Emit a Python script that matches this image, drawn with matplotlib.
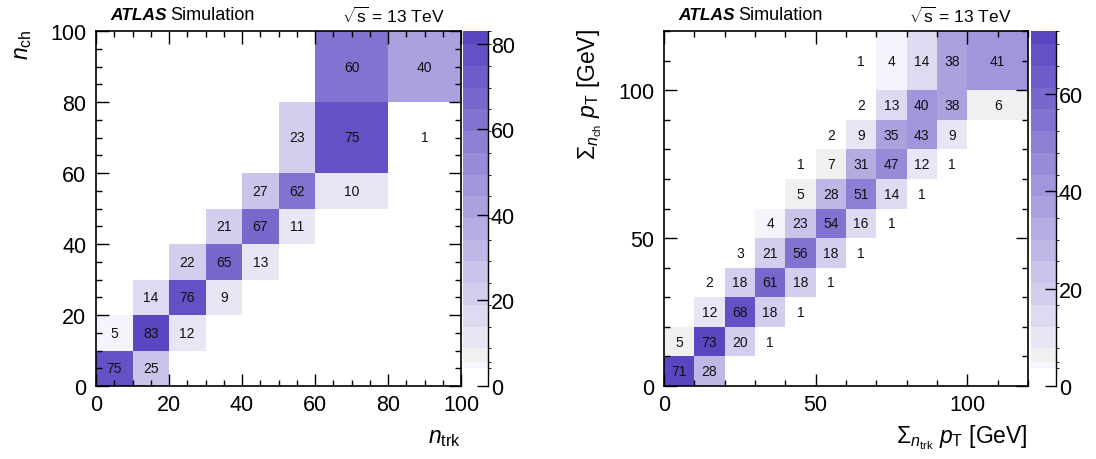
import numpy as np
import matplotlib
matplotlib.use("Agg")
import matplotlib.pyplot as plt
from matplotlib.colors import ListedColormap, BoundaryNorm, to_rgb
from matplotlib.ticker import MultipleLocator

plt.rcParams['font.family'] = ['Liberation Sans', 'DejaVu Sans']
plt.rcParams['mathtext.fontset'] = 'custom'
plt.rcParams['mathtext.rm'] = 'Liberation Sans'
plt.rcParams['mathtext.it'] = 'Liberation Sans:italic'
plt.rcParams['mathtext.bf'] = 'Liberation Sans:bold'

## data: left panel, n_trk (x) vs n_ch (y), rows go bottom -> top
ntrk_edges = [0, 10, 20, 30, 40, 50, 60, 80, 100]
nch_edges = [0, 10, 20, 30, 40, 50, 60, 80, 100]
counts_n = [
    [75, 25, 0, 0, 0, 0, 0, 0],
    [5, 83, 12, 0, 0, 0, 0, 0],
    [0, 14, 76, 9, 0, 0, 0, 0],
    [0, 0, 22, 65, 13, 0, 0, 0],
    [0, 0, 0, 21, 67, 11, 0, 0],
    [0, 0, 0, 0, 27, 62, 10, 0],
    [0, 0, 0, 0, 0, 23, 75, 1],
    [0, 0, 0, 0, 0, 0, 60, 40],
]

## data: right panel, sum pT trk (x) vs sum pT ch (y)
pttrk_edges = [0, 10, 20, 30, 40, 50, 60, 70, 80, 90, 100, 120]
ptch_edges = [0, 10, 20, 30, 40, 50, 60, 70, 80, 90, 100, 120]
counts_pt = [
    [71, 28, 0, 0, 0, 0, 0, 0, 0, 0, 0],
    [5, 73, 20, 1, 0, 0, 0, 0, 0, 0, 0],
    [0, 12, 68, 18, 1, 0, 0, 0, 0, 0, 0],
    [0, 2, 18, 61, 18, 1, 0, 0, 0, 0, 0],
    [0, 0, 3, 21, 56, 18, 1, 0, 0, 0, 0],
    [0, 0, 0, 4, 23, 54, 16, 1, 0, 0, 0],
    [0, 0, 0, 0, 5, 28, 51, 14, 1, 0, 0],
    [0, 0, 0, 0, 1, 7, 31, 47, 12, 1, 0],
    [0, 0, 0, 0, 0, 2, 9, 35, 43, 9, 0],
    [0, 0, 0, 0, 0, 0, 2, 13, 40, 38, 6],
    [0, 0, 0, 0, 0, 0, 1, 4, 14, 38, 41],
]

## palette: bands as fraction of z range (white, faint, grey, then lavender -> purple)
frac_bounds = [0, 0.05, 0.067] + [0.106 + 0.0612 * k for k in range(15)] + [1.0]
c0 = np.array(to_rgb('#e8e5f5'))
c1 = np.array(to_rgb('#5a46c1'))
n_grad = len(frac_bounds) - 1 - 3
band_cols = ['#ffffff', '#f5f3fb', '#f0f0f0'] + [tuple(c0 + (c1 - c0) * i / (n_grad - 1)) for i in range(n_grad)]
cmap = ListedColormap(band_cols)


def panel(ax_rect, cb_rect, xedges, yedges, counts, major, xlab, ylab, lab_x, cbticks):
    z = np.array(counts, dtype=float)
    vmax = z.max()
    norm = BoundaryNorm(np.array(frac_bounds) * vmax, cmap.N)
    ax = fig.add_axes(ax_rect)
    zm = np.ma.masked_where(z == 0, z)
    mesh = ax.pcolormesh(xedges, yedges, zm, cmap=cmap, norm=norm)
    xc = 0.5 * (np.array(xedges[:-1]) + np.array(xedges[1:]))
    yc = 0.5 * (np.array(yedges[:-1]) + np.array(yedges[1:]))
    for j in range(z.shape[0]):
        for i in range(z.shape[1]):
            if z[j, i] > 0:
                ax.text(xc[i], yc[j], '%d' % z[j, i], ha='center', va='center', fontsize=10, color='#111111')
    ax.set_xlim(xedges[0], xedges[-1])
    ax.set_ylim(yedges[0], yedges[-1])
    ax.xaxis.set_major_locator(MultipleLocator(major))
    ax.yaxis.set_major_locator(MultipleLocator(major))
    minor = 5 if major == 20 else 10
    ax.xaxis.set_minor_locator(MultipleLocator(minor))
    ax.yaxis.set_minor_locator(MultipleLocator(minor))
    ax.tick_params(which='both', direction='in', top=True, right=True, labelsize=15.5, width=1)
    ax.tick_params(axis='y', which='both', pad=7)
    ax.tick_params(axis='x', which='both', pad=6)
    ax.tick_params(which='major', length=9)
    ax.tick_params(which='minor', length=4.5)
    for s in ax.spines.values():
        s.set_linewidth(1.2)

    cax = fig.add_axes(cb_rect)
    cb = fig.colorbar(mesh, cax=cax, spacing='proportional', ticks=cbticks)
    cb.outline.set_visible(False)
    cax.plot([1, 1], [0, 1], transform=cax.transAxes, color='k', lw=1, clip_on=False)
    cax.tick_params(direction='in', length=8, width=1, labelsize=15.5, pad=2)
    cax.set_ylim(0, vmax)

    # labels
    x0 = ax_rect[0]
    x1 = ax_rect[0] + ax_rect[2]
    fig.text(x1, 1 - 438 / 460, xlab, ha='right', va='center', fontsize=16.5)
    fig.text(lab_x, 1 - 29 / 460, ylab, ha='center', va='top', rotation=90, fontsize=16.5)
    fig.text(x0 + 14 / 1096, 1 - 16 / 460, 'ATLAS', ha='left', va='center', fontsize=12.5,
             fontweight='bold', fontstyle='italic')
    fig.text(x0 + 74 / 1096, 1 - 16 / 460, 'Simulation', ha='left', va='center', fontsize=13)
    fig.text(x1 - 16 / 1096, 1 - 16 / 460, r'$\sqrt{\mathrm{s}}$ = 13 TeV', ha='right', va='center', fontsize=12.5)
    return ax


fig = plt.figure(figsize=(10.96, 4.6), dpi=100)

panel([96 / 1096, 73 / 460, 365 / 1096, 355 / 460], [463 / 1096, 73 / 460, 25 / 1096, 355 / 460],
      ntrk_edges, nch_edges, counts_n, 20,
      r'$n_{\mathrm{trk}}$', r'$n_{\mathrm{ch}}$', 22 / 1096, [0, 20, 40, 60, 80])

panel([664 / 1096, 73 / 460, 364 / 1096, 355 / 460], [1031 / 1096, 73 / 460, 25 / 1096, 355 / 460],
      pttrk_edges, ptch_edges, counts_pt, 50,
      r'$\Sigma_{n_{\mathrm{trk}}}\ p_{\mathrm{T}}$ [GeV]', r'$\Sigma_{n_{\mathrm{ch}}}\ p_{\mathrm{T}}$ [GeV]',
      590 / 1096, [0, 20, 40, 60])

fig.savefig('out.png', dpi=100)
